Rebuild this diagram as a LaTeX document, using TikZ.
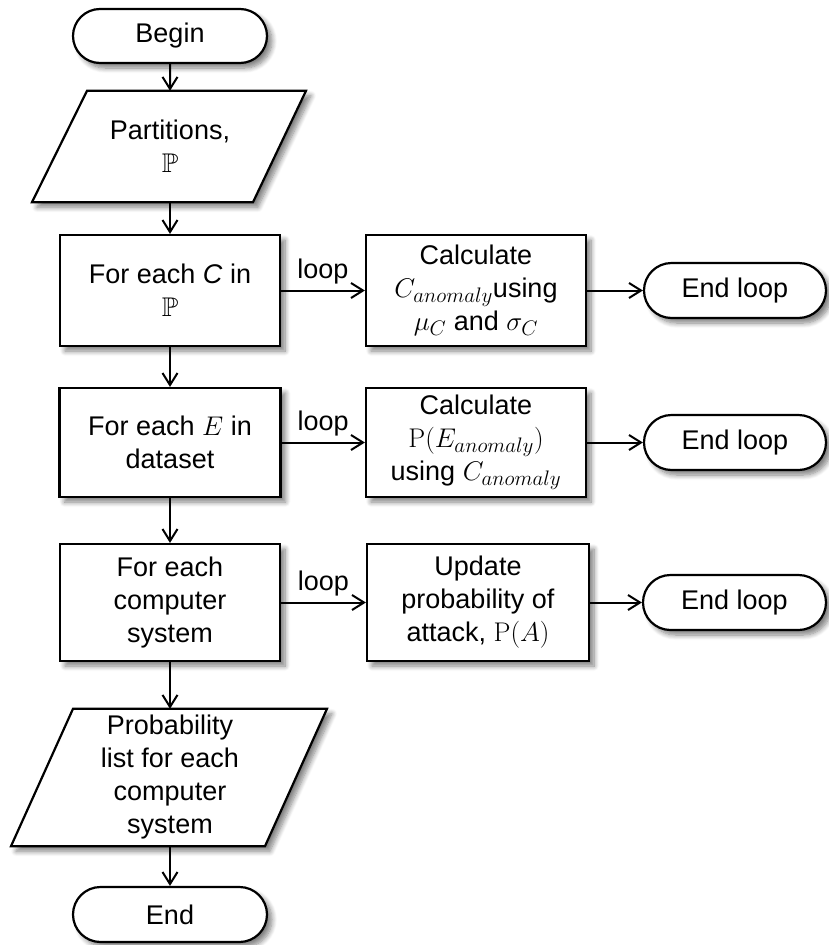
\RequirePackage{fix-cm}
\documentclass[tikz,border=0pt]{standalone}
\usepackage{amssymb}
\usepackage[no-math]{fontspec}
\setmainfont{Liberation Sans}
\DeclareMathSizes{27}{27}{21}{16}
\usetikzlibrary{arrows.meta,shapes.misc,shadows.blur,backgrounds,calc}

\tikzset{
  shade/.style={blur shadow={shadow xshift=5pt, shadow yshift=-5pt,
      shadow blur radius=5pt, shadow blur steps=8, shadow opacity=50}},
  txt/.style={font=\fontsize{27}{33}\selectfont, align=center, inner sep=0pt},
  procbox/.style={txt, draw, line width=2.2pt, fill=white, shade},
  termbox/.style={txt, draw, line width=2.2pt, fill=white, shade,
      rounded rectangle},
  iobox/.style={txt},
  ioshape/.style={draw, line width=2.2pt, fill=white, shade, line join=miter},
  flow/.style={line width=2pt, -{Straight Barb[length=12pt, width=15pt, line width=2pt]}},
  looplbl/.style={txt, above=5pt, midway},
}

\begin{document}
\begin{tikzpicture}[x=1pt, y=-1pt]
\useasboundingbox (0,0) rectangle (828,945);

% main column
\node[termbox, minimum width=194pt, minimum height=54pt] (begin) at (170,36) {Begin};
\node[iobox, minimum width=180pt, minimum height=111pt] (part) at (170,146.5)
  {Partitions,\\ $\mathbb{P}$};
\node[procbox, minimum width=220pt, minimum height=111pt] (forC) at (170,290.5)
  {For each \textit{C} in\\ $\mathbb{P}$};
\node[procbox, minimum width=221pt, minimum height=109pt] (forE) at (170,442.5)
  {For each $E$ in\\ dataset};
\node[procbox, minimum width=220pt, minimum height=117pt] (forS) at (170,602.5)
  {For each\\ computer\\ system};
\node[iobox, minimum width=180pt, minimum height=137pt] (plist) at (170,777.5)
  {Probability\\ list for each\\ computer\\ system};
\node[termbox, minimum width=194pt, minimum height=55pt] (end) at (170,914.5) {End};

% loop bodies
\node[procbox, minimum width=220pt, minimum height=111pt] (calcC) at (476,290.5)
  {Calculate\\ $C_{anomaly}$using\\ $\mu_C$ and $\sigma_C$};
\node[procbox, minimum width=220pt, minimum height=109pt] (calcE) at (476,442.5)
  {Calculate\\ $\mathrm{P}(E_{anomaly})$\\ using $C_{anomaly}$};
\node[procbox, minimum width=222pt, minimum height=117pt] (upd) at (478,602.5)
  {Update\\ probability of\\ attack, $\mathrm{P}(A)$};

% loop ends
\node[termbox, minimum width=182pt, minimum height=55pt] (endC) at (735,290.5) {End loop};
\node[termbox, minimum width=182pt, minimum height=55pt] (endE) at (735,442.5) {End loop};
\node[termbox, minimum width=183pt, minimum height=55pt] (endS) at (734.5,602.5) {End loop};

% input/output parallelograms
\begin{pgfonlayer}{background}
\draw[ioshape] ([xshift=-83pt]part.north) -- ([xshift=136pt]part.north)
  -- ([xshift=83pt]part.south) -- ([xshift=-138pt]part.south) -- cycle;
\draw[ioshape] ([xshift=-97pt]plist.north) -- ([xshift=157pt]plist.north)
  -- ([xshift=95pt]plist.south) -- ([xshift=-159pt]plist.south) -- cycle;
\end{pgfonlayer}

% main flow
\draw[flow] (begin) -- (part);
\draw[flow] (part) -- (forC);
\draw[flow] (forC) -- (forE);
\draw[flow] (forE) -- (forS);
\draw[flow] (forS) -- (plist);
\draw[flow] (plist) -- (end);

% loops
\draw[flow] (forC) -- node[looplbl] {loop} (calcC);
\draw[flow] (forE) -- node[looplbl] {loop} (calcE);
\draw[flow] (forS) -- node[looplbl] {loop} (upd);
\draw[flow] (calcC) -- (endC);
\draw[flow] (calcE) -- (endE);
\draw[flow] (upd) -- (endS);
\end{tikzpicture}
\end{document}
